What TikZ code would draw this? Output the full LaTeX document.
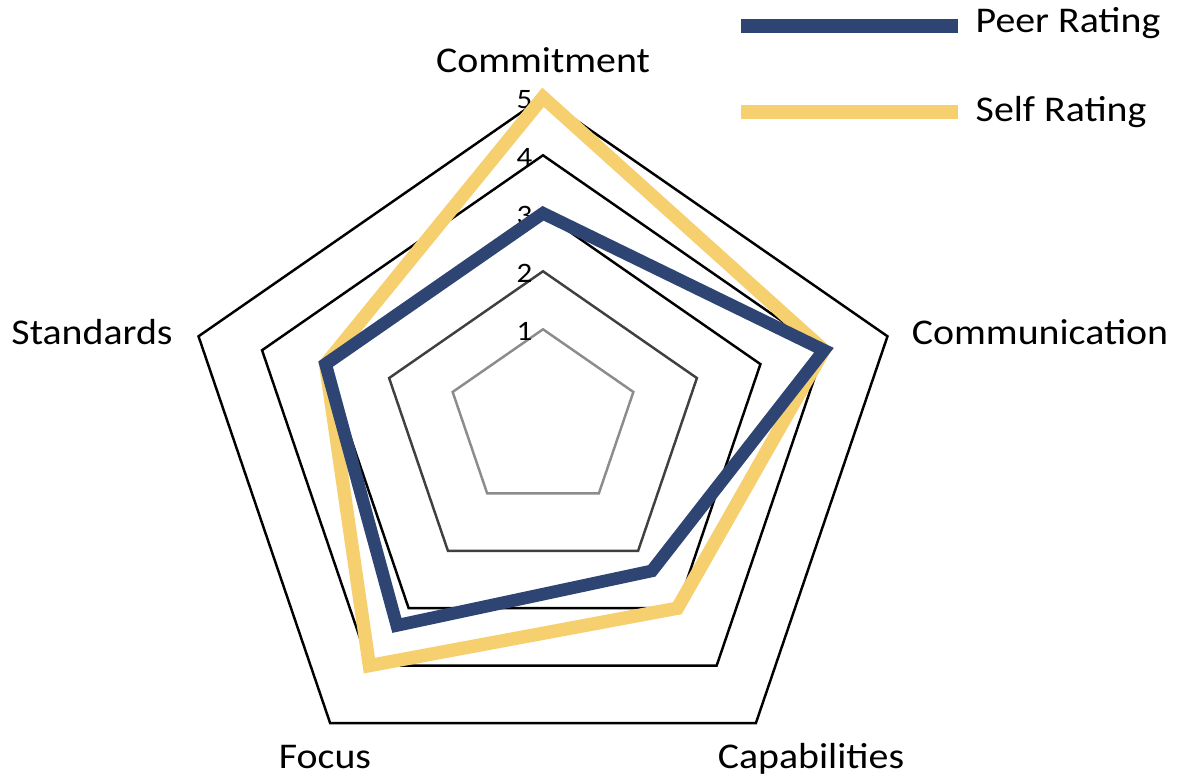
\documentclass[tikz,border=0pt]{standalone}
\usepackage{fontspec}
\setmainfont[FakeStretch=1.1]{Carlito}
\usepackage{tikz}
\definecolor{peerblue}{HTML}{2E4573}
\definecolor{selfgold}{HTML}{F6D06E}
\tikzstyle{ring} = [line width=0.7pt]
\tikzstyle{peerline} = [draw=peerblue, line width=3.6pt]
\tikzstyle{selfline} = [draw=selfgold, line width=3.8pt]
\tikzstyle{axislabel} = [font=\fontsize{10.3}{12}\selectfont, inner sep=0pt, anchor=base]
\tikzstyle{levelnum} = [font=\fontsize{8}{9}\selectfont, inner sep=0pt, anchor=east]

\begin{document}
\begin{tikzpicture}[x=0.01cm, y=-0.01cm]
        \fill[white] (0,0) rectangle (1177,780);
        \useasboundingbox (0,0) rectangle (1177,780);

        \foreach \v/\c in {1/black!45, 2/black!75, 3/black, 4/black, 5/black}{
            \foreach \i in {0,...,4}
                \coordinate (L\v\i) at ({543+(28.2+66.8*\v)*cos(90-72*\i)}, {414.2+5.8*\v-(26.9+63.8*\v)*sin(90-72*\i)});
            \draw[ring, \c] (L\v0) -- (L\v1) -- (L\v2) -- (L\v3) -- (L\v4) -- cycle;
            \node[levelnum] at ([xshift=-0.1cm, yshift=-0.02cm]L\v0) (n\v) {\v};
        }

        \foreach \i/\p/\s in {0/3/5, 1/4/4, 2/2.35/3, 3/3.3/4, 4/3/3}{
            \coordinate (P\i) at ({543+(28.2+66.8*\p)*cos(90-72*\i)}, {414.2+5.8*\p-(26.9+63.8*\p)*sin(90-72*\i)});
            \coordinate (S\i) at ({543+(28.2+66.8*\s)*cos(90-72*\i)}, {414.2+5.8*\s-(26.9+63.8*\s)*sin(90-72*\i)});
        }
        \draw[selfline] (S0) -- (S1) -- (S2) -- (S3) -- (S4) -- cycle;
        \draw[peerline] (P0) -- (P1) -- (P2) -- (P3) -- (P4) -- cycle;

        \node[axislabel] at (543,73) (commit) {Commitment};
        \node[axislabel] at (1040,345) (commun) {Communication};
        \node[axislabel] at (811,768) (capab) {Capabilities};
        \node[axislabel] at (325,768) (focus) {Focus};
        \node[axislabel] at (92,345) (stand) {Standards};

        \coordinate (peerA) at (741,26);
        \coordinate (peerB) at (958,26);
        \coordinate (selfA) at (741,112);
        \coordinate (selfB) at (958,112);
        \draw[peerline, line width=4.2pt] (peerA) -- (peerB);
        \draw[selfline, line width=4.2pt] (selfA) -- (selfB);
        \node[axislabel, anchor=base west] at (975,33) (peer) {Peer Rating};
        \node[axislabel, anchor=base west] at (975,122) (self) {Self Rating};

    \end{tikzpicture}
\end{document}
